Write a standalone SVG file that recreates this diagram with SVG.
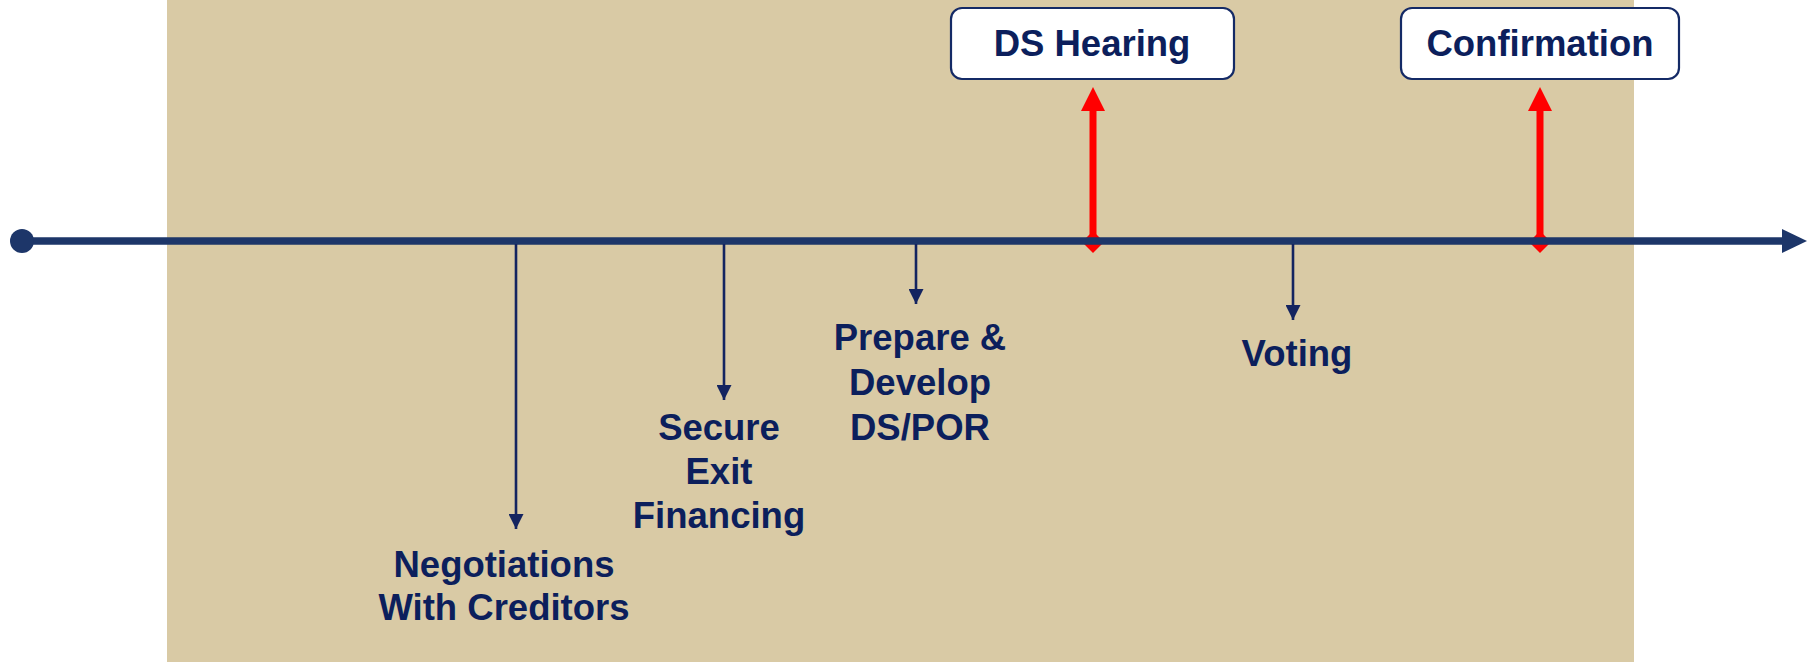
<svg xmlns="http://www.w3.org/2000/svg" width="1812" height="662" viewBox="0 0 1812 662">
  <style>
    .lbl { font-family: "Liberation Sans", Arial, sans-serif; font-weight: bold; font-size: 36.5px; fill: #0c1f5c; text-anchor: middle; }
    .box { fill: #ffffff; stroke: #142a66; stroke-width: 2.2; }
    .tick { stroke: #142460; stroke-width: 2.6; fill: none; }
    .milestone { stroke: #ff0000; stroke-width: 7; fill: none; }
    .red { fill: #ff0000; }
  </style>
  <defs>
    <marker id="tickHead" viewBox="0 0 15 15" refX="15" refY="7.5" markerWidth="15" markerHeight="15" markerUnits="userSpaceOnUse" orient="auto">
      <path d="M0,0 L15,7.5 L0,15 Z" fill="#142460"/>
    </marker>
  </defs>

  <!-- shaded period -->
  <rect x="167" y="0" width="1467" height="662" fill="#d9caa5"/>

  <g id="connectors">
    <!-- milestone pointers (red, up) -->
    <line class="milestone" x1="1093" y1="238" x2="1093" y2="108"/>
    <path class="red" d="M1081,111 L1093,87 L1105,111 Z"/>
    <path class="red" d="M1093,231 L1104,242 L1093,253 L1082,242 Z"/>
    <line class="milestone" x1="1540" y1="238" x2="1540" y2="108"/>
    <path class="red" d="M1528,111 L1540,87 L1552,111 Z"/>
    <path class="red" d="M1540,231 L1551,242 L1540,253 L1529,242 Z"/>

    <!-- main timeline -->
    <line x1="22" y1="241" x2="1784" y2="241" stroke="#1d3669" stroke-width="7.5"/>
    <circle cx="22" cy="241" r="12" fill="#1d3669"/>
    <path d="M1782,229 L1807,241 L1782,253 Z" fill="#1d3669"/>

    <!-- activity pointers (navy, down) -->
    <line class="tick" x1="516" y1="244" x2="516" y2="529" marker-end="url(#tickHead)"/>
    <line class="tick" x1="724" y1="244" x2="724" y2="400" marker-end="url(#tickHead)"/>
    <line class="tick" x1="916" y1="244" x2="916" y2="304" marker-end="url(#tickHead)"/>
    <line class="tick" x1="1293" y1="244" x2="1293" y2="320" marker-end="url(#tickHead)"/>
  </g>

  <g id="ds-hearing">
    <rect class="box" x="951" y="8" width="283" height="71" rx="11"/>
    <text class="lbl" x="1092" y="56">DS Hearing</text>
  </g>

  <g id="confirmation">
    <rect class="box" x="1401" y="8" width="278" height="71" rx="11"/>
    <text class="lbl" x="1540" y="56">Confirmation</text>
  </g>

  <g id="negotiations">
    <text class="lbl" x="504" y="577">Negotiations</text>
    <text class="lbl" x="504" y="620">With Creditors</text>
  </g>

  <g id="exit-financing">
    <text class="lbl" x="719" y="440">Secure</text>
    <text class="lbl" x="719" y="484">Exit</text>
    <text class="lbl" x="719" y="528">Financing</text>
  </g>

  <g id="ds-por">
    <text class="lbl" x="920" y="350">Prepare &amp;</text>
    <text class="lbl" x="920" y="395">Develop</text>
    <text class="lbl" x="920" y="440">DS/POR</text>
  </g>

  <g id="voting">
    <text class="lbl" x="1297" y="366">Voting</text>
  </g>
</svg>
